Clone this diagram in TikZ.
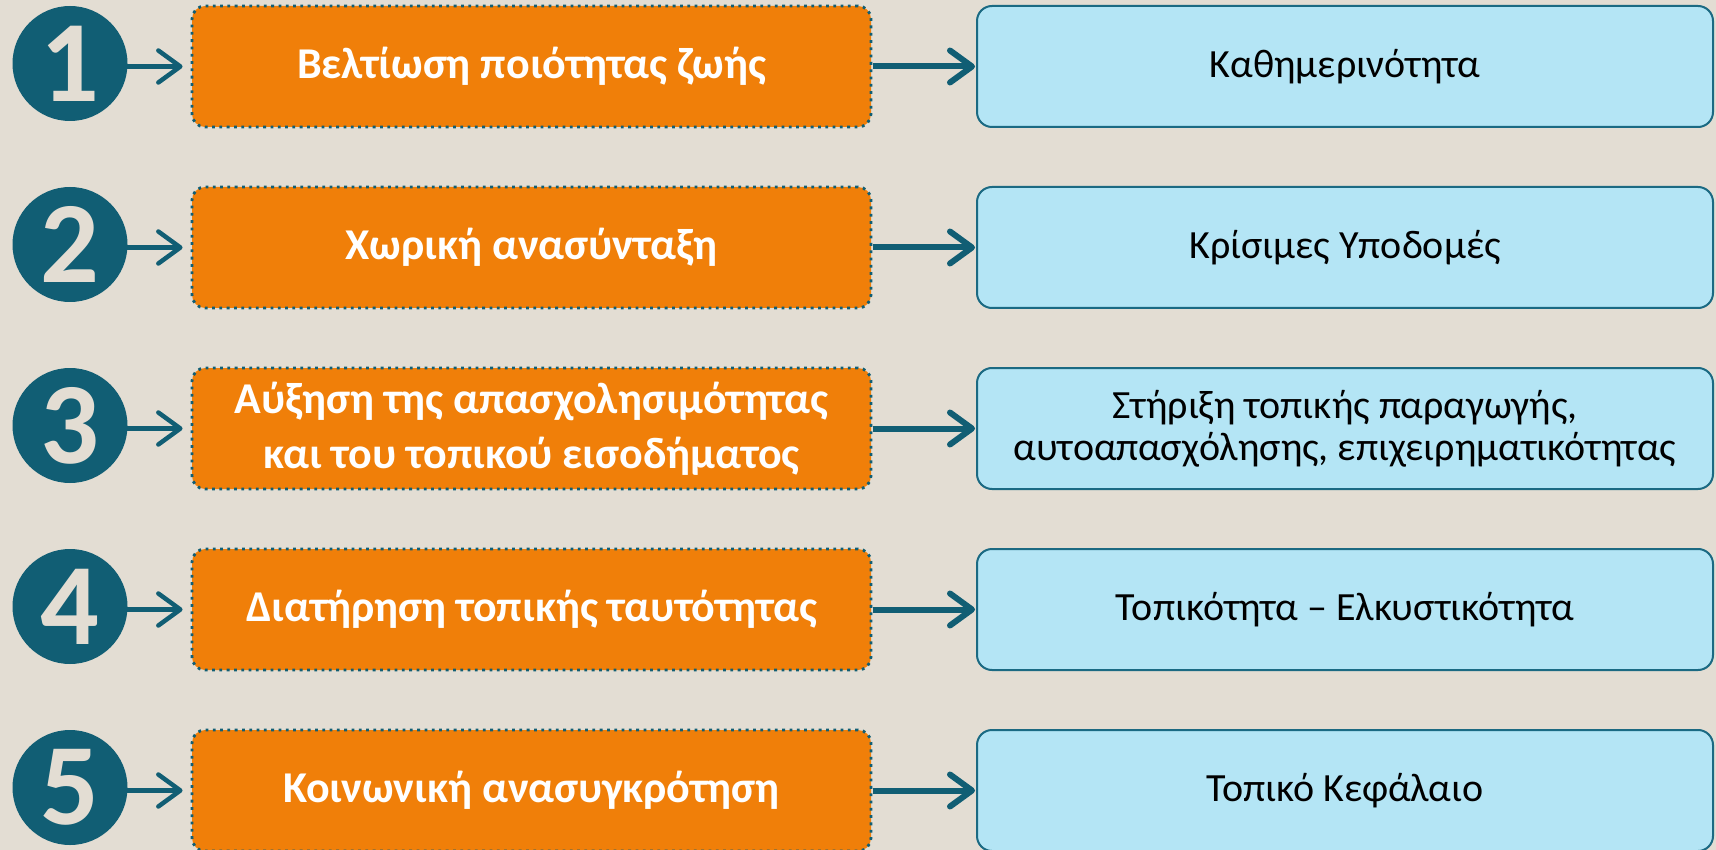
\documentclass[tikz,border=0pt]{standalone}
\usepackage{fontspec}
\setmainfont{Carlito}
\usetikzlibrary{arrows.meta}
\definecolor{bgc}{HTML}{E3DDD3}
\definecolor{tealc}{HTML}{115E74}
\definecolor{tealb}{HTML}{1B6A83}
\definecolor{orng}{HTML}{F07F09}
\definecolor{bluef}{HTML}{B4E5F5}
\begin{document}
\begin{tikzpicture}[x=1pt,y=-1pt,
  numc/.style={circle, fill=tealc, minimum size=115pt, inner sep=0pt, text=bgc,
    font=\fontsize{116}{116}\selectfont\bfseries},
  obox/.style={rectangle, rounded corners=13pt, fill=orng, draw=tealc, line width=2.8pt,
    dash pattern=on 2.8pt off 4.5pt, minimum width=679pt, minimum height=121pt,
    text=white, font=\fontsize{44}{55}\selectfont\bfseries, align=center},
  bbox/.style={rectangle, rounded corners=15pt, fill=bluef, draw=tealb, line width=2pt,
    minimum width=736pt, minimum height=121pt, text=black,
    font=\fontsize{40}{42}\selectfont, align=center},
  arra/.style={line width=4.5pt, draw=tealc, line cap=round,
    -{Straight Barb[length=22pt,width=32pt,line cap=round,line join=round]}},
  arrb/.style={line width=6pt, draw=tealc,
    -{Straight Barb[length=22pt,width=32pt,line cap=round,line join=round]}}
]
\fill[bgc] (0,0) rectangle (1716,850);
\useasboundingbox (0,0) rectangle (1716,850);

\node[numc] (c1) at (70,63.5) {1};
\node[numc] (c2) at (70,244.5) {2};
\node[numc] (c3) at (70,425.5) {3};
\node[numc] (c4) at (70,606.5) {4};
\node[numc] (c5) at (70,787.5) {5};

\node[obox] (o1) at (531.5,66.5) {Βελτίωση ποιότητας ζωής};
\node[obox] (o2) at (531.5,247.5) {Χωρική ανασύνταξη};
\node[obox] (o3) at (531.5,428.5) {Αύξηση της απασχολησιμότητας\\και του τοπικού εισοδήματος};
\node[obox] (o4) at (531.5,609.5) {Διατήρηση τοπικής ταυτότητας};
\node[obox] (o5) at (531.5,790.5) {Κοινωνική ανασυγκρότηση};

\node[bbox] (b1) at (1345,66.5) {Καθημερινότητα};
\node[bbox] (b2) at (1345,247.5) {Κρίσιμες Υποδομές};
\node[bbox] (b3) at (1345,428.5) {Στήριξη τοπικής παραγωγής,\\αυτοαπασχόλησης, επιχειρηματικότητας};
\node[bbox] (b4) at (1345,609.5) {Τοπικότητα – Ελκυστικότητα};
\node[bbox] (b5) at (1345,790.5) {Τοπικό Κεφάλαιο};

\foreach \i in {1,...,5}{
  \draw[arra] (c\i.east |- o\i.west) -- ([xshift=-8pt]o\i.west);
  \draw[arrb] ([xshift=1pt]o\i.east) -- ([xshift=-1pt]b\i.west);
}
\end{tikzpicture}
\end{document}
